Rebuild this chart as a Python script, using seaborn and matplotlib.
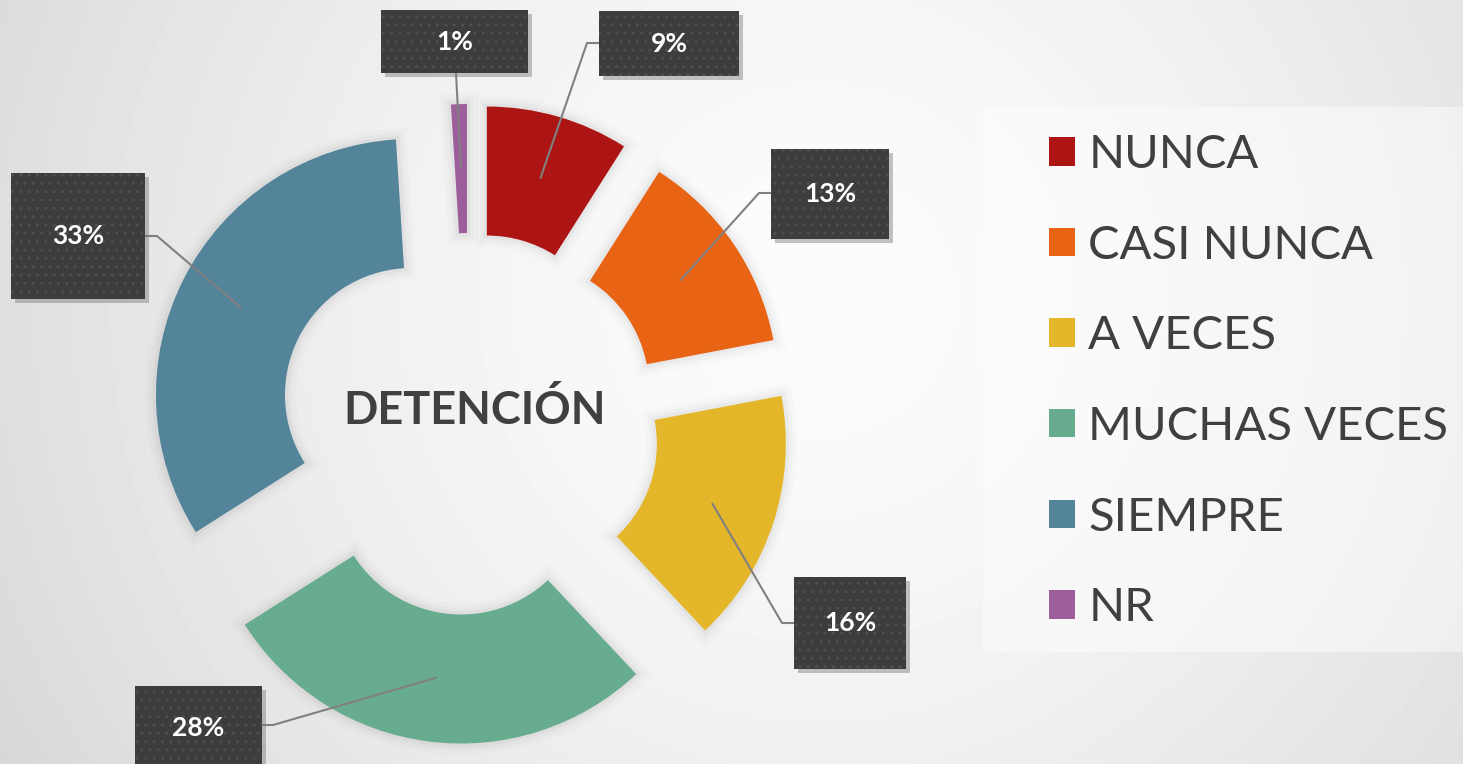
import numpy as np
import matplotlib.pyplot as plt
import matplotlib.patheffects as pe
from matplotlib.patches import Rectangle
import seaborn as sns

# data
categories = ['NUNCA', 'CASI NUNCA', 'A VECES', 'MUCHAS VECES', 'SIEMPRE', 'NR']
percent = [9, 13, 16, 28, 33, 1]
colors = ['#ad1515', '#e86314', '#e4b72b', '#68ac8f', '#53849a', '#9d5f9c']
center_title = 'DETENCIÓN'

# layout in pixels (y measured from the top of the picture)
W, H = 1463, 764
donut_center = (469, 424)
label_boxes = [(599, 11, 739, 76), (771, 149, 889, 239), (794, 577, 906, 669),
               (135, 686, 262, 770), (11, 173, 145, 299), (381, 10, 528, 73)]
elbows = [(587, 43), (759, 193), (782, 623), (273, 725), (157, 236), None]
attach = [(599, 43), (771, 193), (794, 623), (262, 725), (145, 236), (456, 73)]

sns.set_style('white')
plt.rcParams['font.family'] = ['Lato', 'DejaVu Sans']
plt.rcParams['hatch.linewidth'] = 1.0

fig = plt.figure(figsize=(W / 100, H / 100), dpi=100)
ax = fig.add_axes([0, 0, 1, 1])

def fy(y):
    return H - y

# soft background
xx, yy = np.meshgrid(np.arange(W), np.arange(H))
d = np.hypot(xx - 820, yy - 300) / 900
bg = np.clip(252 - 34 * d ** 1.5, 215, 255) / 255
ax.imshow(bg, cmap='gray', vmin=0, vmax=1, extent=(0, W, 0, H), zorder=0, aspect='auto')

# legend panel
ax.add_patch(Rectangle((983, fy(652)), 500, 545, facecolor='white', alpha=0.45,
                       linewidth=0, zorder=1))

pal = sns.color_palette(colors)
wedges, _ = ax.pie(percent, colors=pal, startangle=90, counterclock=False,
                   radius=256, center=(donut_center[0], fy(donut_center[1])),
                   explode=[64] * len(percent),
                   wedgeprops=dict(width=129, linewidth=0))
for w in wedges:
    w.set_zorder(3)
    w.set_path_effects([pe.Stroke(linewidth=16, foreground='#000000', alpha=0.015),
                        pe.Stroke(linewidth=10, foreground='#000000', alpha=0.02),
                        pe.Stroke(linewidth=5, foreground='#000000', alpha=0.03),
                        pe.Normal()])

ax.text(475, fy(411), center_title, ha='center', va='center', fontsize=32.5,
        fontweight='bold', color='#404040', zorder=4)

# data labels with leader lines
for w, val, box, elb, att in zip(wedges, percent, label_boxes, elbows, attach):
    mid = np.deg2rad((w.theta1 + w.theta2) / 2)
    rr = w.r - w.width / 2
    px = w.center[0] + rr * np.cos(mid)
    py = w.center[1] + rr * np.sin(mid)
    xs = [px] + ([elb[0]] if elb else []) + [att[0]]
    ys = [py] + ([fy(elb[1])] if elb else []) + [fy(att[1])]
    ax.plot(xs, ys, color='#808080', lw=1.5, zorder=5, solid_capstyle='butt')
    x0, y0, x1, y1 = box
    ax.add_patch(Rectangle((x0 + 4, fy(y1 + 4)), x1 - x0, y1 - y0, facecolor='#7a7a7a',
                           alpha=0.45, linewidth=0, zorder=5.5))
    ax.add_patch(Rectangle((x0, fy(y1)), x1 - x0, y1 - y0, facecolor='#3d3d3d',
                           edgecolor='#4f4f4f', hatch='..', linewidth=0, zorder=6))
    ax.text((x0 + x1) / 2, fy((y0 + y1) / 2), f'{val}%', ha='center', va='center',
            fontsize=19, fontweight='bold', color='white', zorder=7)

ax.set_xlim(0, W)
ax.set_ylim(0, H)
ax.axis('off')

leg = fig.legend(wedges, categories, loc='upper left', bbox_to_anchor=(1049 / W, fy(134) / H),
                 frameon=False, fontsize=34, handlelength=0.55, handleheight=0.55,
                 handletextpad=0.28, labelspacing=1.03, borderpad=0, borderaxespad=0,
                 labelcolor='#404040')
for h in leg.legend_handles:
    h.set_path_effects([])

fig.savefig('out.png', dpi=100)
